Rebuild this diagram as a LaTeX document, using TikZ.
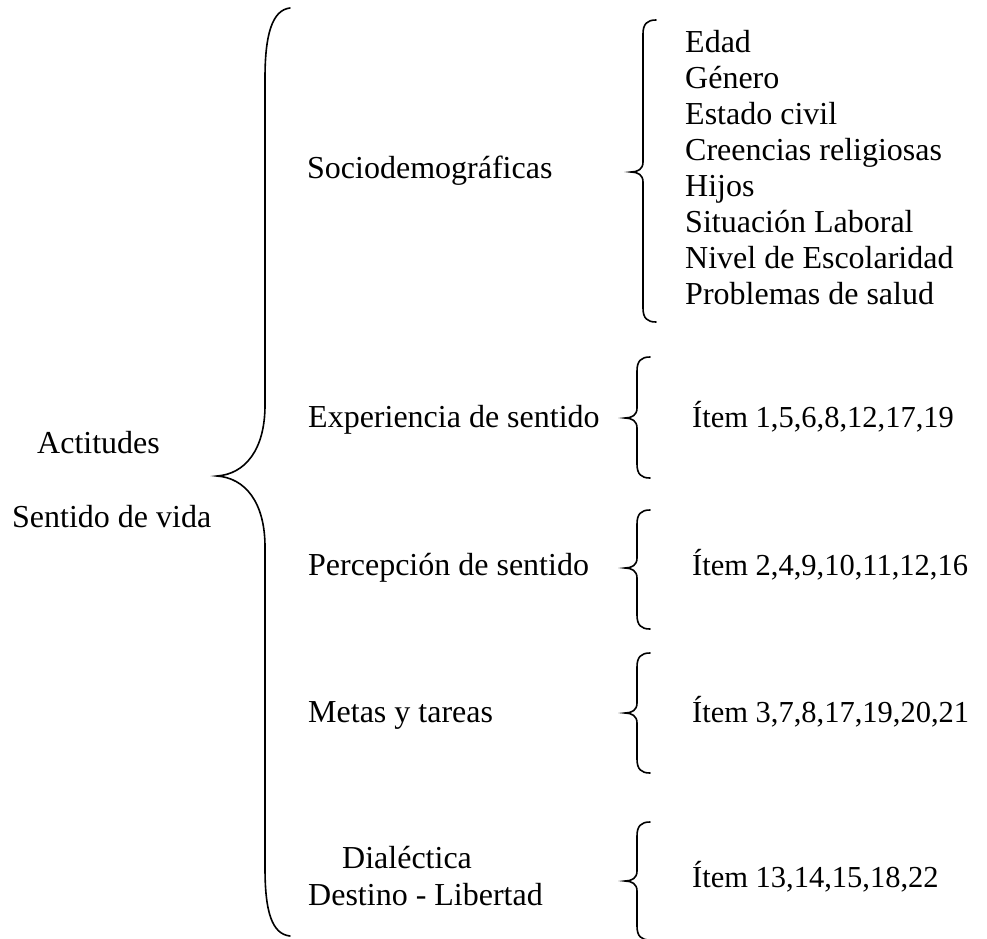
\documentclass[tikz,border=0pt]{standalone}
\usepackage{fontspec}
\setmainfont{Liberation Serif}
\newcommand{\sbrc}[4]{% #1 vertical x, #2 top y, #3 tip y, #4 bottom y
  \draw[brc] (#1+13,#2) .. controls (#1+4,#2) and (#1,#2+4) .. (#1,#2+14)
    -- (#1,#3-10) .. controls (#1,#3-3) and (#1-5,#3) .. (#1-12,#3)
    .. controls (#1-5,#3) and (#1,#3+3) .. (#1,#3+10)
    -- (#1,#4-14) .. controls (#1,#4-4) and (#1+4,#4) .. (#1+13,#4);}
\begin{document}
\begin{tikzpicture}[x=1pt,y=-1pt,
  lbl/.style={anchor=base west, inner sep=0pt, font=\fontsize{32}{36}\selectfont},
  itm/.style={anchor=base west, inner sep=0pt, font=\fontsize{30.5}{35}\selectfont},
  brc/.style={line width=1.6pt, line cap=round}]
\useasboundingbox (0,0) rectangle (987,938);
% left labels
\node[lbl] (act) at (37,453) {Actitudes};
\node[lbl] (sen) at (12,527) {Sentido de vida};
% big brace
\draw[brc] (290,8) .. controls (272,10) and (265,35) .. (265,78)
  -- (265,405) .. controls (265,450) and (245,474) .. (217,476)
  .. controls (245,478) and (265,502) .. (265,547)
  -- (265,868) .. controls (265,912) and (272,934) .. (290,936);
% middle labels
\node[lbl] (soc) at (307,178) {Sociodemográficas};
\node[lbl] (exp) at (308,427) {Experiencia de sentido};
\node[lbl] (per) at (308,575) {Percepción de sentido};
\node[lbl] (met) at (308,722) {Metas y tareas};
\node[lbl] (dia) at (342,868) {Dialéctica};
\node[lbl] (des) at (308,905) {Destino - Libertad};
% small braces
\sbrc{643}{20}{172}{322}
\sbrc{637}{357}{418}{478}
\sbrc{637}{510}{568}{629}
\sbrc{637}{653}{713}{773}
\sbrc{637}{822}{881}{940}
% list
\node[lbl] (l1) at (685,52) {Edad};
\node[lbl] (l2) at (685,88) {Género};
\node[lbl] (l3) at (685,124) {Estado civil};
\node[lbl] (l4) at (685,160) {Creencias religiosas};
\node[lbl] (l5) at (685,196) {Hijos};
\node[lbl] (l6) at (685,232) {Situación Laboral};
\node[lbl] (l7) at (685,268) {Nivel de Escolaridad};
\node[lbl] (l8) at (685,304) {Problemas de salud};
% items
\node[itm] (i1) at (692,427) {Ítem 1,5,6,8,12,17,19};
\node[itm] (i2) at (692,575) {Ítem 2,4,9,10,11,12,16};
\node[itm] (i3) at (692,722) {Ítem 3,7,8,17,19,20,21};
\node[itm] (i4) at (692,887) {Ítem 13,14,15,18,22};
\end{tikzpicture}
\end{document}
